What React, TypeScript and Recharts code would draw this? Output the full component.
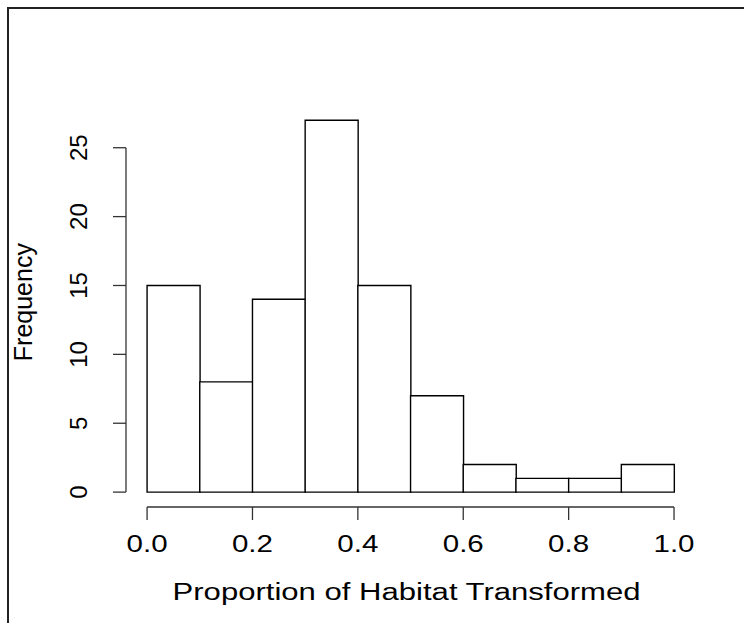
import { BarChart, Bar, XAxis, YAxis, ReferenceLine, Label } from 'recharts'

// histogram bins (left edges + final right edge) and counts per bin
const binEdges = [0, 0.1, 0.2, 0.3, 0.4, 0.5, 0.6, 0.7, 0.8, 0.9, 1.0]
const counts = [15, 8, 14, 27, 15, 7, 2, 1, 1, 2]
const xTicks = [0, 0.2, 0.4, 0.6, 0.8, 1.0]
const yTicks = [0, 5, 10, 15, 20, 25]

const xTitle = 'Proportion of Habitat Transformed'
const yTitle = 'Frequency'

const data = counts.map((n, i) => ({
  bin: `${binEdges[i]}-${binEdges[i + 1]}`,
  mid: (binEdges[i] + binEdges[i + 1]) / 2,
  count: n,
}))

// R-style plot region: data range padded by 4% on each side
const xDomain = [-0.04, 1.04]
const yDomain = [-1.08, 28.08]

const FONT = '"Liberation Sans", Arial, Helvetica, sans-serif'
const INK = '#000'
const AXIS = '#333'

function XTick({ x, y, payload }: any) {
  return (
    <text x={x} y={y} textAnchor="middle" fontFamily={FONT} fontSize={23} fill={INK}
      textLength={41} lengthAdjust="spacingAndGlyphs">
      {Number(payload.value).toFixed(1)}
    </text>
  )
}

function YTick({ x, y, payload }: any) {
  return (
    <text x={x} y={y} textAnchor="middle" fontFamily={FONT} fontSize={24} fill={INK}
      transform={`rotate(-90, ${x}, ${y})`}>
      {payload.value}
    </text>
  )
}

function XTitle({ viewBox }: any) {
  const cx = viewBox.x + viewBox.width / 2 - 4
  return (
    <text x={cx} y={600} textAnchor="middle" fontFamily={FONT} fontSize={23} fill={INK}
      textLength={468} lengthAdjust="spacingAndGlyphs">
      {xTitle}
    </text>
  )
}

function YTitle({ viewBox }: any) {
  const cy = viewBox.y + viewBox.height / 2 - 4
  const x = 32
  return (
    <text x={x} y={cy} textAnchor="middle" fontFamily={FONT} fontSize={25} fill={INK}
      transform={`rotate(-90, ${x}, ${cy})`}>
      {yTitle}
    </text>
  )
}

export default function App() {
  return (
    <div style={{ position: 'fixed', left: 0, top: 0, width: 744, height: 623, background: '#fff', overflow: 'hidden' }}>
      <div style={{
        position: 'absolute', left: 7, top: 7, width: 760, height: 640,
        borderLeft: '2px solid #222', borderTop: '2px solid #222',
      }} />
      <div style={{ position: 'absolute', left: 0, top: 0 }}>
        <BarChart width={744} height={623} data={data} barCategoryGap={0}
          margin={{ top: 105.3, right: 48.9, left: 66, bottom: 46 }}>
          <XAxis xAxisId="bins" dataKey="bin" type="category" hide orientation="top" height={0}
            padding={{ left: 21.08, right: 21.08 }} />
          <XAxis xAxisId="num" dataKey="mid" type="number" domain={xDomain} allowDataOverflow
            ticks={xTicks} interval={0} height={70} axisLine={false}
            tickLine={{ stroke: AXIS, strokeWidth: 1.3 }} tickSize={13} tickMargin={32}
            tick={<XTick />}>
            <Label content={<XTitle />} />
          </XAxis>
          <YAxis type="number" domain={yDomain} allowDataOverflow ticks={yTicks} interval={0}
            width={60} axisLine={false} tickLine={{ stroke: AXIS, strokeWidth: 1.3 }}
            tickSize={13} tickMargin={26} tick={<YTick />}>
            <Label content={<YTitle />} />
          </YAxis>
          <Bar xAxisId="bins" dataKey="count" fill="#fff" stroke={INK} strokeWidth={1.4}
            isAnimationActive={false} />
          {/* axis lines span first to last tick only */}
          <ReferenceLine xAxisId="num" stroke={AXIS} strokeWidth={1.3}
            segment={[{ x: xDomain[0], y: yTicks[0] }, { x: xDomain[0], y: yTicks[yTicks.length - 1] }]} />
          <ReferenceLine xAxisId="num" stroke={AXIS} strokeWidth={1.3}
            segment={[{ x: xTicks[0], y: yDomain[0] }, { x: xTicks[xTicks.length - 1], y: yDomain[0] }]} />
        </BarChart>
      </div>
    </div>
  )
}
